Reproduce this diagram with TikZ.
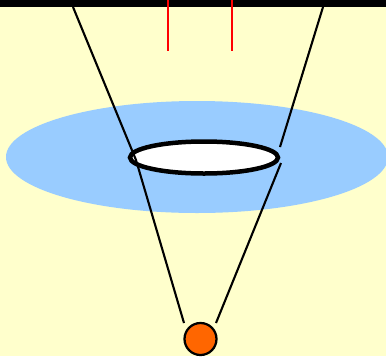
\documentclass[tikz,border=0pt]{standalone}
\usepackage{tikz}
\definecolor{paleyellow}{RGB}{255,255,204}
\definecolor{lensblue}{RGB}{153,204,255}
\definecolor{sourceorange}{RGB}{255,102,0}

\begin{document}
\begin{tikzpicture}[x=0.02cm,y=-0.02cm,
    ray/.style={black,line width=0.042cm},
    redray/.style={red,line width=0.04cm}]
  \useasboundingbox (0,0) rectangle (386,356);

  % Background
  \fill[paleyellow] (0,0) rectangle (386,356);
  \begin{scope}
    \clip (0,0) rectangle (386,356);

    % Blue disc
    \fill[lensblue] (197,157) ellipse [x radius=191, y radius=56];

    % Screen at the top
    \fill[black] (0,0) rectangle (386,7);

    % Red lines
    \foreach \x in {168,232}
      \draw[redray] (\x,0) -- (\x,51);

    % Opening
    \draw[black,fill=white,line width=0.09cm] (204,157.5) ellipse [x radius=74, y radius=16];

    % Rays, bent at the opening
    \draw[ray] (73,7) -- (136,160) -- (184,323);
    \draw[ray] (323,7) -- (280,147);
    \draw[ray] (281,163) -- (216,323);

    % Source
    \draw[black,fill=sourceorange,line width=0.045cm] (200.5,339) circle [radius=16];
  \end{scope}
\end{tikzpicture}
\end{document}
